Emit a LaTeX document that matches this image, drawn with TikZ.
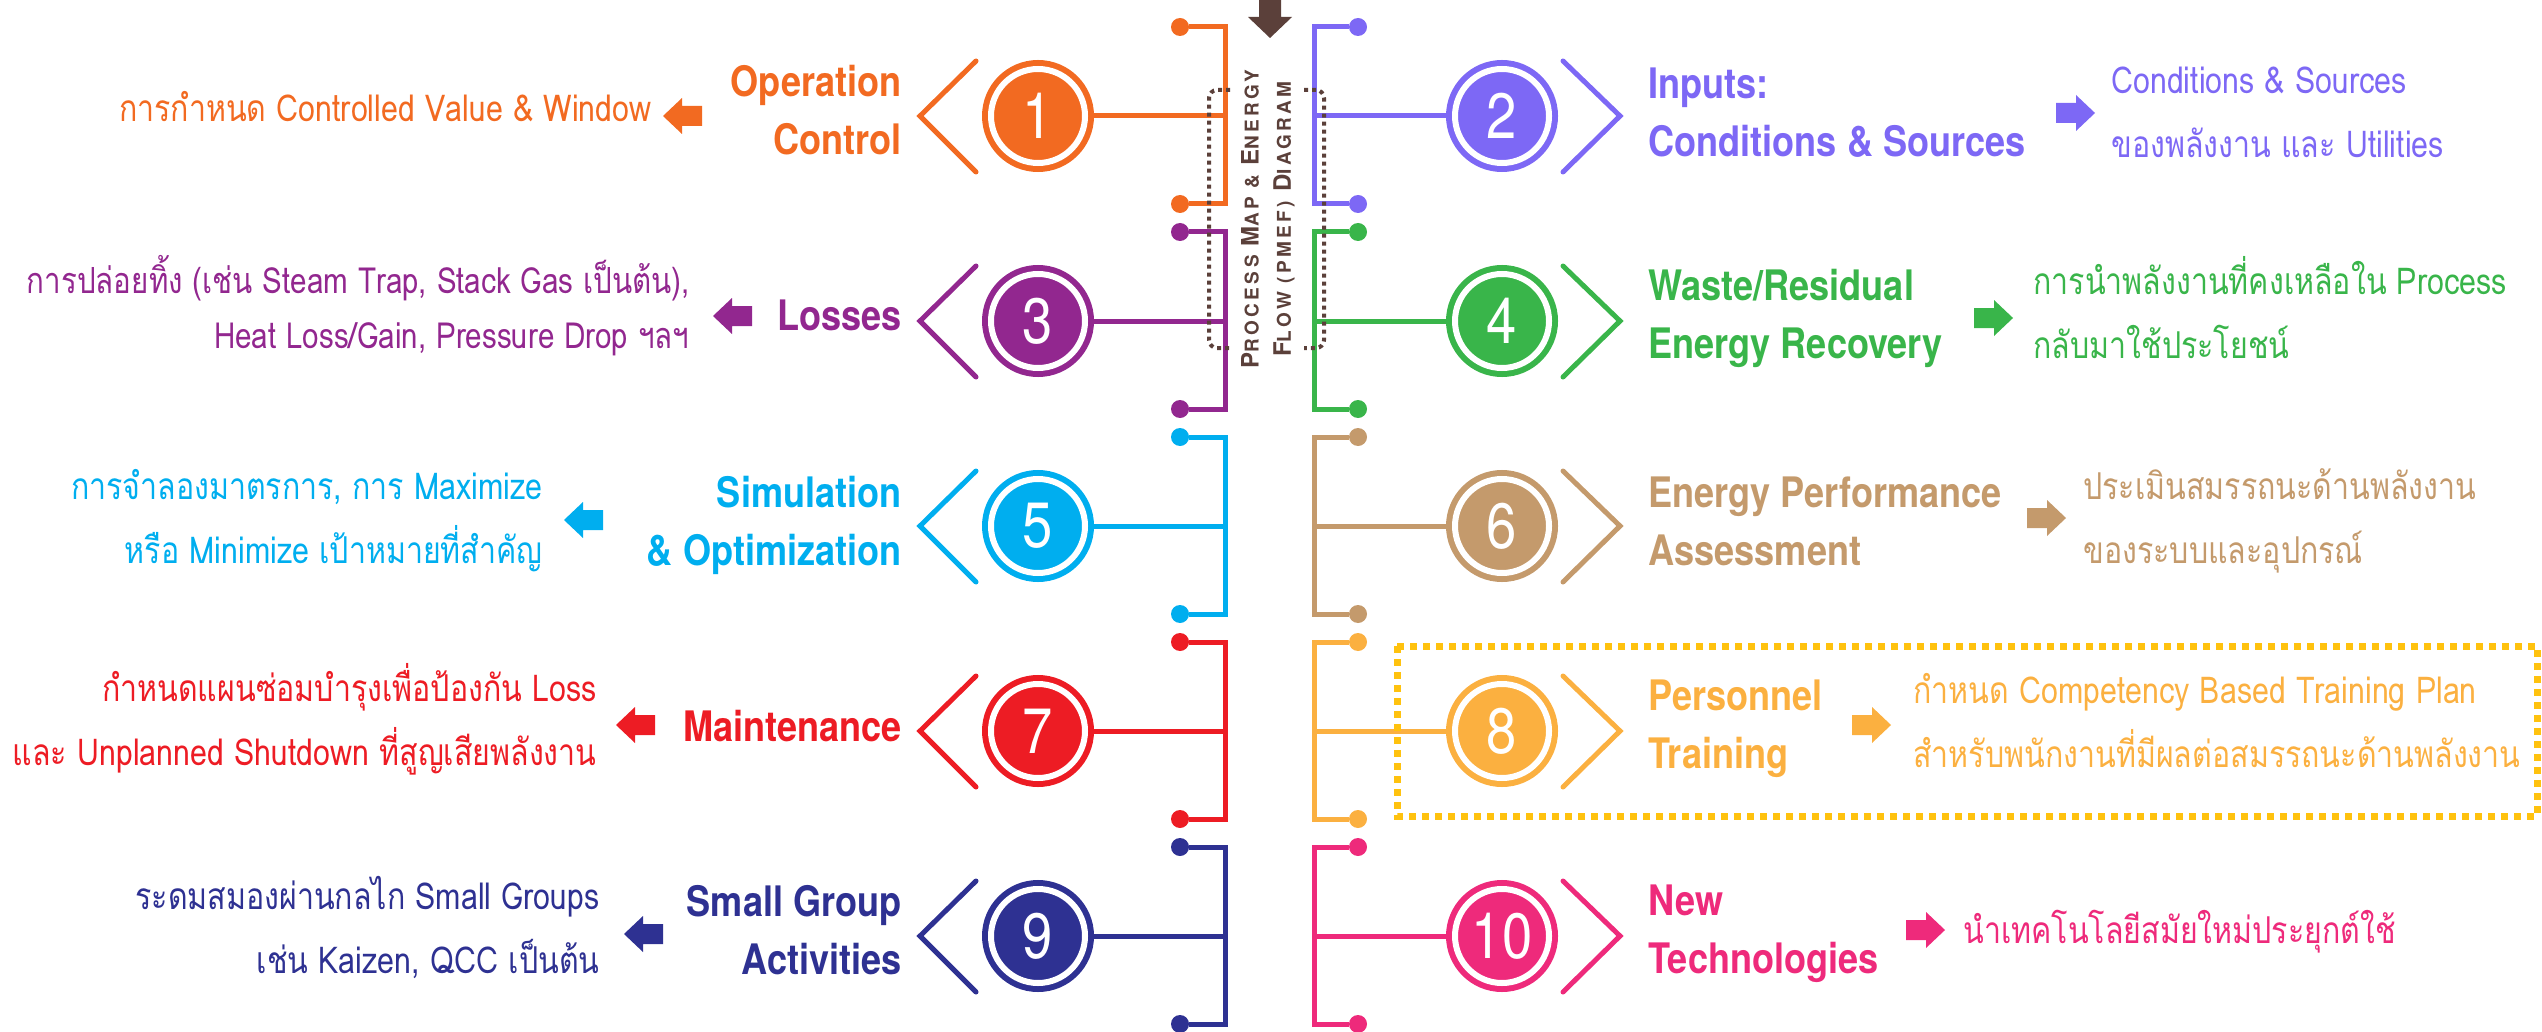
\documentclass[tikz,border=0pt]{standalone}
\usepackage{fontspec}
\setmainfont{TeX Gyre Heros}
\newfontfamily\headfont[FakeStretch=0.86]{TeX Gyre Heros}
\newfontfamily\numfont[FakeStretch=0.85]{TeX Gyre Heros}
\newfontfamily\axisfont[LetterSpace=18]{TeX Gyre Heros}
\newfontfamily\thaifont[Script=Thai,FakeStretch=0.82]{Loma}
\definecolor{opOrange}{HTML}{F26A21}
\definecolor{inViolet}{HTML}{7D68F5}
\definecolor{lossPurple}{HTML}{92278F}
\definecolor{wasteGreen}{HTML}{39B54A}
\definecolor{simCyan}{HTML}{00AEEF}
\definecolor{perfTan}{HTML}{C49A6C}
\definecolor{mainRed}{HTML}{ED1C24}
\definecolor{trainGold}{HTML}{FBB040}
\definecolor{groupNavy}{HTML}{2E3192}
\definecolor{techPink}{HTML}{EE2A7B}
\definecolor{boxYellow}{HTML}{FFC20E}
\definecolor{axisBrown}{HTML}{5B403A}
\tikzset{stud/.style={circle,fill,inner sep=0pt,minimum size=9pt},
         badge/.style={circle,fill=#1,draw=#1,double=white,line width=3pt,double distance=3pt,
                       minimum size=47pt,inner sep=0pt,outer sep=4.5pt,text=white,
                       font=\numfont\fontsize{32}{32}\selectfont},
         wire/.style={line width=2.5pt},
         chevron/.style={line width=2.5pt,line cap=round},
         heading/.style={font=\headfont\bfseries\fontsize{21}{29}\selectfont,inner sep=0pt},
         note/.style={font=\thaifont\fontsize{18.5}{32}\selectfont,inner sep=0pt},
         axistext/.style={font=\axisfont\bfseries\fontsize{9.5}{12}\selectfont,text=axisBrown,inner sep=0pt},
         dotframe/.style={axisBrown,line width=2pt,dash pattern=on 2pt off 2pt,rounded corners=4pt},
         lpoint/.pic={\fill (0,0)--(19,-18)--(19,-10)--(39,-10)--(39,10)--(19,10)--(19,18)--cycle;},
         rpoint/.pic={\fill (0,0)--(-19,-18)--(-19,-10)--(-39,-10)--(-39,10)--(-19,10)--(-19,18)--cycle;},
        }
\newcommand{\axiscap}[1]{{\fontsize{12}{12}\selectfont #1}}
\begin{document}
\begin{tikzpicture}[x=0.5pt,y=-0.5pt]
        \useasboundingbox (0,0) rectangle (2542,1032);

        % centre axis
        \fill[axisBrown](1259,0)--(1281,0)--(1281,17)--(1292,17)--(1270,38)--(1248,17)--(1259,17)--cycle;

        % 1 Operation Control
        \node[stud,opOrange](d1a)at(1180,27){};
        \node[stud,opOrange](d1b)at(1180,204){};
        \coordinate(j1)at(1225,116);
        \node[badge=opOrange](n1)at(1038,116){1};
        \draw[wire,opOrange](d1a)-|(j1)|-(d1b);
        \draw[wire,opOrange](j1)--(n1);
        \draw[chevron,opOrange](976,61)--(920,116)--(976,172);
        \node[heading,opOrange,anchor=base east,align=right](t1)at(902,155){Operation\\Control};
        \pic[opOrange]at(663,116){lpoint};
        \node[note,opOrange,anchor=base east](s1)at(652,122){การกำหนด Controlled Value \& Window};

        % 2 Inputs
        \node[stud,inViolet](d2a)at(1358,27){};
        \node[stud,inViolet](d2b)at(1358,204){};
        \coordinate(j2)at(1314,116);
        \node[badge=inViolet](n2)at(1502,116){2};
        \draw[wire,inViolet](d2a)-|(j2)|-(d2b);
        \draw[wire,inViolet](j2)--(n2);
        \draw[chevron,inViolet](1563,61)--(1620,116)--(1563,172);
        \node[heading,inViolet,anchor=base west,align=left](t2)at(1648,157){Inputs:\\Conditions \& Sources};
        \pic[inViolet]at(2095,113){rpoint};
        \node[note,inViolet,anchor=base west,align=left](s2)at(2111,158){Conditions \& Sources\\ของพลังงาน และ Utilities};

        % 3 Losses
        \node[stud,lossPurple](d3a)at(1180,232){};
        \node[stud,lossPurple](d3b)at(1180,409){};
        \coordinate(j3)at(1225,321);
        \node[badge=lossPurple](n3)at(1038,321){3};
        \draw[wire,lossPurple](d3a)-|(j3)|-(d3b);
        \draw[wire,lossPurple](j3)--(n3);
        \draw[chevron,lossPurple](976,266)--(920,321)--(976,377);
        \node[heading,lossPurple,anchor=base east](t3)at(902,330){Losses};
        \pic[lossPurple]at(713,316){lpoint};
        \node[note,lossPurple,anchor=base east,align=right,font=\thaifont\fontsize{18}{27.5}\selectfont](s3)at(690,348)
            {การปล่อยทิ้ง (เช่น Steam Trap, Stack Gas เป็นต้น),\\Heat Loss/Gain, Pressure Drop ฯลฯ};

        % 4 Waste/Residual Energy Recovery
        \node[stud,wasteGreen](d4a)at(1358,232){};
        \node[stud,wasteGreen](d4b)at(1358,409){};
        \coordinate(j4)at(1314,321);
        \node[badge=wasteGreen](n4)at(1502,321){4};
        \draw[wire,wasteGreen](d4a)-|(j4)|-(d4b);
        \draw[wire,wasteGreen](j4)--(n4);
        \draw[chevron,wasteGreen](1563,266)--(1620,321)--(1563,377);
        \node[heading,wasteGreen,anchor=base west,align=left](t4)at(1648,358){Waste/Residual\\Energy Recovery};
        \pic[wasteGreen]at(2013,318){rpoint};
        \node[note,wasteGreen,anchor=base west,align=left](s4)at(2033,358){การนำพลังงานที่คงเหลือใน Process\\กลับมาใช้ประโยชน์};

        % 5 Simulation & Optimization
        \node[stud,simCyan](d5a)at(1180,437){};
        \node[stud,simCyan](d5b)at(1180,614){};
        \coordinate(j5)at(1225,526);
        \node[badge=simCyan](n5)at(1038,526){5};
        \draw[wire,simCyan](d5a)-|(j5)|-(d5b);
        \draw[wire,simCyan](j5)--(n5);
        \draw[chevron,simCyan](976,471)--(920,526)--(976,582);
        \node[heading,simCyan,anchor=base east,align=right](t5)at(902,565){Simulation\\\& Optimization};
        \pic[simCyan]at(564,520){lpoint};
        \node[note,simCyan,anchor=base east,align=right](s5)at(543,563){การจำลองมาตรการ, การ Maximize\\หรือ Minimize เป้าหมายที่สำคัญ};

        % 6 Energy Performance Assessment
        \node[stud,perfTan](d6a)at(1358,437){};
        \node[stud,perfTan](d6b)at(1358,614){};
        \coordinate(j6)at(1314,526);
        \node[badge=perfTan](n6)at(1502,526){6};
        \draw[wire,perfTan](d6a)-|(j6)|-(d6b);
        \draw[wire,perfTan](j6)--(n6);
        \draw[chevron,perfTan](1563,471)--(1620,526)--(1563,582);
        \node[heading,perfTan,anchor=base west,align=left](t6)at(1648,565){Energy Performance\\Assessment};
        \pic[perfTan]at(2066,518){rpoint};
        \node[note,perfTan,anchor=base west,align=left](s6)at(2083,563){ประเมินสมรรถนะด้านพลังงาน\\ของระบบและอุปกรณ์};

        % 7 Maintenance
        \node[stud,mainRed](d7a)at(1180,642){};
        \node[stud,mainRed](d7b)at(1180,819){};
        \coordinate(j7)at(1225,731);
        \node[badge=mainRed](n7)at(1038,731){7};
        \draw[wire,mainRed](d7a)-|(j7)|-(d7b);
        \draw[wire,mainRed](j7)--(n7);
        \draw[chevron,mainRed](976,676)--(920,731)--(976,787);
        \node[heading,mainRed,anchor=base east](t7)at(902,741){Maintenance};
        \pic[mainRed]at(616,725){lpoint};
        \node[note,mainRed,anchor=base east,align=right](s7)at(597,765){กำหนดแผนซ่อมบำรุงเพื่อป้องกัน Loss\\และ Unplanned Shutdown ที่สูญเสียพลังงาน};

        % 8 Personnel Training
        \node[stud,trainGold](d8a)at(1358,642){};
        \node[stud,trainGold](d8b)at(1358,819){};
        \coordinate(j8)at(1314,731);
        \node[badge=trainGold](n8)at(1502,731){8};
        \draw[wire,trainGold](d8a)-|(j8)|-(d8b);
        \draw[wire,trainGold](j8)--(n8);
        \draw[chevron,trainGold](1563,676)--(1620,731)--(1563,787);
        \node[heading,trainGold,anchor=base west,align=left](t8)at(1648,768){Personnel\\Training};
        \pic[trainGold]at(1891,725){rpoint};
        \node[note,trainGold,anchor=base west,align=left](s8)at(1913,767){กำหนด Competency Based Training Plan\\สำหรับพนักงานที่มีผลต่อสมรรถนะด้านพลังงาน};
        \draw[boxYellow,line width=3.5pt,dash pattern=on 3.5pt off 3pt](1397,646)rectangle(2537,816);

        % 9 Small Group Activities
        \node[stud,groupNavy](d9a)at(1180,847){};
        \node[stud,groupNavy](d9b)at(1180,1024){};
        \coordinate(j9)at(1225,936);
        \node[badge=groupNavy](n9)at(1038,936){9};
        \draw[wire,groupNavy](d9a)-|(j9)|-(d9b);
        \draw[wire,groupNavy](j9)--(n9);
        \draw[chevron,groupNavy](976,881)--(920,936)--(976,992);
        \node[heading,groupNavy,anchor=base east,align=right](t9)at(902,974){Small Group\\Activities};
        \pic[groupNavy]at(624,934){lpoint};
        \node[note,groupNavy,anchor=base east,align=right](s9)at(600,973){ระดมสมองผ่านกลไก Small Groups\\เช่น Kaizen, QCC เป็นต้น};

        % 10 New Technologies
        \node[stud,techPink](d10a)at(1358,847){};
        \node[stud,techPink](d10b)at(1358,1024){};
        \coordinate(j10)at(1314,936);
        \node[badge=techPink](n10)at(1502,936){10};
        \draw[wire,techPink](d10a)-|(j10)|-(d10b);
        \draw[wire,techPink](j10)--(n10);
        \draw[chevron,techPink](1563,881)--(1620,936)--(1563,992);
        \node[heading,techPink,anchor=base west,align=left](t10)at(1648,973){New\\Technologies};
        \pic[techPink]at(1945,930){rpoint};
        \node[note,techPink,anchor=base west](s10)at(1963,943){นำเทคโนโลยีสมัยใหม่ประยุกต์ใช้};

        % axis label and frame
        \draw[dotframe](1230,90)--(1209,90)--(1209,348)--(1230,348);
        \draw[dotframe](1304,90)--(1324,90)--(1324,348)--(1304,348);
        \node[axistext,rotate=90](ax1)at(1250,219){\axiscap{P}ROCESS \axiscap{M}AP \& \axiscap{E}NERGY};
        \node[axistext,rotate=90](ax2)at(1284,219){\axiscap{F}LOW (PMEF) \axiscap{D}IAGRAM};
    \end{tikzpicture}
\end{document}
